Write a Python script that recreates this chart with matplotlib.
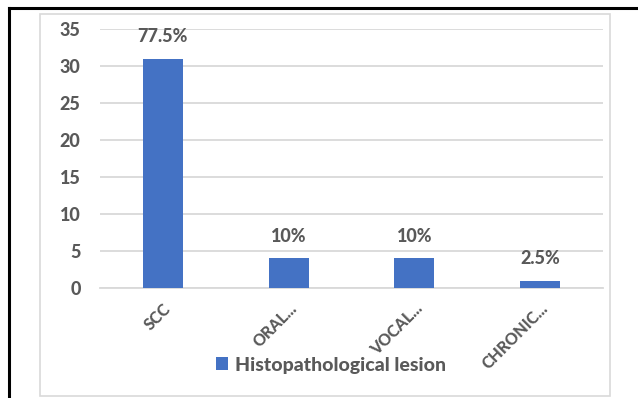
import matplotlib
matplotlib.use('Agg')
import matplotlib.pyplot as plt
from matplotlib.patches import Rectangle
from matplotlib.lines import Line2D
from matplotlib.transforms import ScaledTranslation

categories = ['SCC', 'ORAL...', 'VOCAL...', 'CHRONIC...']
counts = [31, 4, 4, 1]
percent_labels = ['77.5%', '10%', '10%', '2.5%']
y_ticks = [0, 5, 10, 15, 20, 25, 30, 35]
series_name = 'Histopathological lesion'

BAR_COLOR = '#4472C4'
TEXT_COLOR = '#595959'
GRID_COLOR = '#D9D9D9'
FONT = ['Lato', 'DejaVu Sans']
WEIGHT = 900

W, H = 638, 398
fig = plt.figure(figsize=(W / 100, H / 100), dpi=100)

# outer frame (top and left edge only)
fig.add_artist(Line2D([9 / W, 1], [1 - 8 / H, 1 - 8 / H], color='black', lw=2.2,
                      transform=fig.transFigure))
fig.add_artist(Line2D([9 / W, 9 / W], [0, 1 - 8 / H], color='black', lw=2.2,
                      transform=fig.transFigure))
# chart area border
fig.add_artist(Rectangle((40 / W, 2 / H), 570 / W, (H - 16) / H, fill=False,
                         edgecolor=GRID_COLOR, lw=1.2, transform=fig.transFigure))

ax = fig.add_axes([100 / W, (H - 288) / H, 503 / W, 259 / H])
x = range(len(categories))
ax.bar(x, counts, width=0.32, color=BAR_COLOR, zorder=3, label=series_name)

for xi, v, lab in zip(x, counts, percent_labels):
    ax.annotate(lab, (xi, v), xytext=(0, 9.5), textcoords='offset points',
                ha='center', va='bottom', fontsize=13, fontweight=WEIGHT,
                color=TEXT_COLOR, family=FONT)

ax.set_xlim(-0.5, len(categories) - 0.5)
ax.set_ylim(0, 35)
ax.set_yticks(y_ticks)
ax.set_yticklabels([str(t) for t in y_ticks], fontsize=13, fontweight=WEIGHT,
                   color=TEXT_COLOR, family=FONT)
ax.set_xticks(list(x))
ax.set_xticklabels(categories, rotation=45, ha='right', rotation_mode='anchor',
                   fontsize=11.5, fontweight=WEIGHT, color=TEXT_COLOR, family=FONT)
shift = ScaledTranslation(5 / 100, 0, fig.dpi_scale_trans)
for lbl in ax.get_xticklabels():
    lbl.set_transform(lbl.get_transform() + shift)
ax.tick_params(axis='both', length=0)
ax.tick_params(axis='y', pad=14)
ax.tick_params(axis='x', pad=9)
ax.grid(axis='y', color=GRID_COLOR, lw=1.3, zorder=0)
for s in ['top', 'right', 'left']:
    ax.spines[s].set_visible(False)
ax.spines['bottom'].set_color(GRID_COLOR)
ax.spines['bottom'].set_linewidth(1.3)

fig.legend(loc='center', bbox_to_anchor=(331 / W, 1 - 365 / H), frameon=False,
           handlelength=0.6, handleheight=0.6, handletextpad=0.35,
           prop={'family': FONT, 'size': 14, 'weight': WEIGHT}, labelcolor=TEXT_COLOR)

fig.savefig('out.png', dpi=100)
